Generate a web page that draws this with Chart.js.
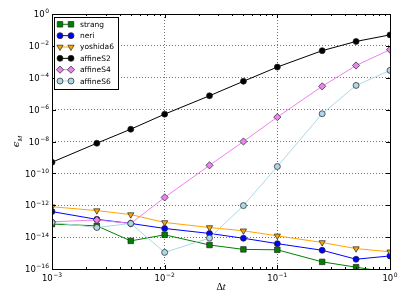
<!DOCTYPE html>
<html>
<head>
<meta charset="utf-8">
<script src="https://cdn.jsdelivr.net/npm/chart.js@4/dist/chart.umd.min.js"></script>
<style>
  html, body { margin: 0; padding: 0; background: #fff; }
  #wrap { width: 407px; height: 305px; }
</style>
</head>
<body>
<div id="wrap"><canvas id="errChart" width="407" height="305"></canvas></div>
<script>
// step sizes and error per scheme
var dt = [0.001, 0.0025, 0.005, 0.01, 0.025, 0.05, 0.1, 0.25, 0.5, 1];
var strang = [6.6e-14, 5.1e-14, 5.8e-15, 1.4e-14, 3.2e-15, 1.7e-15, 1.6e-15, 2.8e-16, 1.3e-16, 6e-17];
var neri = [4.0e-13, 1.3e-13, 7.2e-14, 3.5e-14, 1.7e-14, 8.5e-15, 3.9e-15, 1.5e-15, 4.1e-16, 6.6e-16];
var yoshida6 = [8.1e-13, 4.6e-13, 2.6e-13, 8.3e-14, 4.0e-14, 2.5e-14, 1.2e-14, 4.6e-15, 1.9e-15, 1.2e-15];
var affineS2 = [5e-10, 7.8e-9, 5.9e-8, 5.2e-7, 7.4e-6, 6e-5, 4.7e-4, 5e-3, 1.9e-2, 4.9e-2];
var affineS4 = [9.1e-14, 1.2e-13, 7.2e-14, 3.1e-12, 3.2e-10, 1e-8, 3.4e-7, 2.9e-5, 5.9e-4, 5.8e-3];
var affineS6 = [8.3e-14, 4e-14, 7.2e-14, 1.1e-15, 8.7e-15, 9.5e-13, 2.7e-10, 5.5e-7, 3.3e-5, 2.9e-4];

var names = ["strang", "neri", "yoshida6", "affineS2", "affineS4", "affineS6"];
var xTickExp = [-3, -2, -1, 0];
var yTickExp = [0, -2, -4, -6, -8, -10, -12, -14, -16];

var series = [strang, neri, yoshida6, affineS2, affineS4, affineS6];
var lineColors = ["#008000", "#0000ff", "#ffa500", "#000000", "#ee82ee", "#add8e6"];
var styles = [
    { pointStyle: "rect", radius: 3.9, rotation: 0 },
    { pointStyle: "circle", radius: 3, rotation: 0 },
    { pointStyle: "triangle", radius: 3.6, rotation: 180 },
    { pointStyle: "circle", radius: 3, rotation: 0 },
    { pointStyle: "rectRot", radius: 3.6, rotation: 0 },
    { pointStyle: "circle", radius: 3, rotation: 0 }
];

var datasets = [];
for (var i = 0; i < series.length; i++) {
    datasets.push({
        label: names[i],
        data: dt.map(function (x, j) { return { x: x, y: series[i][j] }; }),
        borderColor: lineColors[i],
        backgroundColor: lineColors[i],
        borderWidth: 1,
        pointStyle: styles[i].pointStyle,
        pointRadius: styles[i].radius,
        pointRotation: styles[i].rotation,
        pointBorderColor: "#222",
        pointBorderWidth: 0.7,
        pointBackgroundColor: lineColors[i],
        tension: 0,
        order: series.length - i
    });
}

function drawPow(ctx, e, x, y, align) {
    // "10" with a raised exponent
    var baseFont = "8.5px 'DejaVu Sans', sans-serif";
    var supFont = "6px 'DejaVu Sans', sans-serif";
    var exp = String(e).replace("-", "\u2212");
    ctx.font = baseFont;
    var w1 = ctx.measureText("10").width;
    ctx.font = supFont;
    var w2 = ctx.measureText(exp).width;
    var total = w1 + w2 + 0.5;
    var left = align === "right" ? x - total : x - total / 2;
    ctx.textAlign = "left";
    ctx.textBaseline = "alphabetic";
    ctx.fillStyle = "#000";
    ctx.font = baseFont;
    ctx.fillText("10", left, y);
    ctx.font = supFont;
    ctx.fillText(exp, left + w1 + 0.5, y - 3.8);
}

var decor = {
    id: "decor",
    afterDatasetsDraw: function (chart) {
        var ctx = chart.ctx;
        var a = chart.chartArea;
        var xs = chart.scales.x, ys = chart.scales.y;
        ctx.save();

        // inward ticks on all four sides
        ctx.strokeStyle = "#000";
        ctx.lineWidth = 1;
        ctx.beginPath();
        for (var d = -3; d <= 0; d++) {
            for (var m = 1; m <= 9; m++) {
                var v = m * Math.pow(10, d);
                if (v > 1) continue;
                var px = Math.round(xs.getPixelForValue(v)) + 0.5;
                var len = m === 1 ? 4 : 2;
                ctx.moveTo(px, a.bottom); ctx.lineTo(px, a.bottom - len);
                ctx.moveTo(px, a.top); ctx.lineTo(px, a.top + len);
            }
        }
        yTickExp.forEach(function (e) {
            var py = Math.round(ys.getPixelForValue(Math.pow(10, e))) + 0.5;
            ctx.moveTo(a.left, py); ctx.lineTo(a.left + 4, py);
            ctx.moveTo(a.right, py); ctx.lineTo(a.right - 4, py);
        });
        ctx.stroke();

        // frame
        ctx.strokeRect(Math.round(a.left) + 0.5, Math.round(a.top) + 0.5,
            Math.round(a.right - a.left), Math.round(a.bottom - a.top));

        // tick labels
        xTickExp.forEach(function (e) {
            drawPow(ctx, e, xs.getPixelForValue(Math.pow(10, e)), a.bottom + 11.5, "center");
        });
        yTickExp.forEach(function (e) {
            drawPow(ctx, e, a.left - 3, ys.getPixelForValue(Math.pow(10, e)) + 3.2, "right");
        });

        // axis labels
        ctx.fillStyle = "#000";
        ctx.textBaseline = "alphabetic";
        ctx.font = "10px 'Liberation Serif', 'DejaVu Serif', serif";
        var wD = ctx.measureText("\u0394").width;
        ctx.font = "italic 10px 'Liberation Serif', 'DejaVu Serif', serif";
        var wt = ctx.measureText("t").width;
        var cx = (a.left + a.right) / 2 - (wD + wt) / 2;
        ctx.textAlign = "left";
        ctx.font = "10px 'Liberation Serif', 'DejaVu Serif', serif";
        ctx.fillText("\u0394", cx, 290);
        ctx.font = "italic 10px 'Liberation Serif', 'DejaVu Serif', serif";
        ctx.fillText("t", cx + wD, 290);

        ctx.save();
        ctx.translate(19, (a.top + a.bottom) / 2);
        ctx.rotate(-Math.PI / 2);
        ctx.font = "italic 10px 'DejaVu Serif', serif";
        var we = ctx.measureText("\u03f5").width;
        ctx.font = "italic 7px 'Liberation Serif', 'DejaVu Serif', serif";
        var wm = ctx.measureText("M").width;
        var sx = -(we + wm) / 2;
        ctx.font = "italic 10px 'DejaVu Serif', serif";
        ctx.fillText("\u03f5", sx, 0);
        ctx.font = "italic 7px 'Liberation Serif', 'DejaVu Serif', serif";
        ctx.fillText("M", sx + we, 2.5);
        ctx.restore();

        // legend
        var lx = 54.5, ly = 17.5, lw = 64, lh = 72;
        ctx.fillStyle = "#fff";
        ctx.fillRect(lx, ly, lw, lh);
        ctx.strokeStyle = "#000";
        ctx.lineWidth = 1;
        ctx.strokeRect(lx, ly, lw, lh);
        ctx.font = "7.5px 'DejaVu Sans', sans-serif";
        ctx.textBaseline = "middle";
        for (var k = 0; k < names.length; k++) {
            var ry = 24.3 + k * 11.35;
            ctx.strokeStyle = lineColors[k];
            ctx.lineWidth = 1;
            ctx.beginPath();
            ctx.moveTo(60, ry); ctx.lineTo(71, ry);
            ctx.stroke();
            ctx.fillStyle = lineColors[k];
            ctx.strokeStyle = "#222";
            ctx.lineWidth = 0.7;
            var opt = { pointStyle: styles[k].pointStyle, radius: styles[k].radius, rotation: styles[k].rotation, borderWidth: 0.7 };
            Chart.helpers.drawPoint(ctx, opt, 60, ry);
            Chart.helpers.drawPoint(ctx, opt, 71, ry);
            ctx.fillStyle = "#000";
            ctx.fillText(names[k], 80, ry + 0.5);
        }
        ctx.restore();
    }
};

new Chart(document.getElementById("errChart"), {
    type: "line",
    data: { datasets: datasets },
    options: {
        responsive: false,
        animation: false,
        events: [],
        layout: { padding: { top: 14, right: 17, left: 0, bottom: 0 } },
        plugins: { legend: { display: false }, tooltip: { enabled: false } },
        scales: {
            x: {
                type: "logarithmic",
                min: 1e-3,
                max: 1,
                afterBuildTicks: function (scale) {
                    scale.ticks = xTickExp.map(function (e) { return { value: Math.pow(10, e) }; });
                },
                afterFit: function (scale) { scale.height = 36; },
                ticks: { display: false },
                border: { display: false, dash: [1, 2] },
                grid: { drawTicks: false, color: "rgba(0,0,0,0.55)", lineWidth: 1 }
            },
            y: {
                type: "logarithmic",
                min: 1e-16,
                max: 1,
                afterBuildTicks: function (scale) {
                    scale.ticks = yTickExp.map(function (e) { return { value: Math.pow(10, e) }; });
                },
                afterFit: function (scale) { scale.width = 52; },
                ticks: { display: false },
                border: { display: false, dash: [1, 2] },
                grid: { drawTicks: false, color: "rgba(0,0,0,0.55)", lineWidth: 1 }
            }
        }
    },
    plugins: [decor]
});
</script>
</body>
</html>
